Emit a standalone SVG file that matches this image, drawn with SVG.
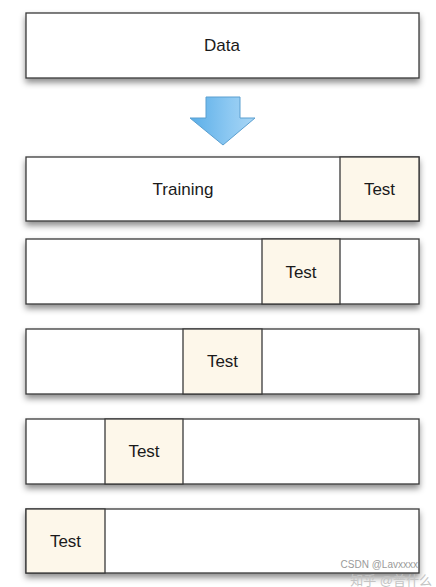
<svg xmlns="http://www.w3.org/2000/svg" width="436" height="587" viewBox="0 0 436 587">
<style>
.box{fill:#ffffff;stroke:#3a3a3a;stroke-width:1.3}
.test{fill:#fdf7ea;stroke:#3a3a3a;stroke-width:1.3}
.lbl{font-family:"Liberation Sans",Arial,sans-serif;font-size:17px;fill:#1a1a1a;text-anchor:middle;dominant-baseline:central}
.wm{font-family:"Liberation Sans","Noto Sans CJK SC",sans-serif;text-anchor:end}
</style>
<defs>
<filter id="sh" x="-5%" y="-20%" width="110%" height="150%">
<feDropShadow dx="0" dy="4" stdDeviation="3" flood-color="#000" flood-opacity="0.45"/>
</filter>
<linearGradient id="ag" x1="0" y1="0" x2="1" y2="0">
<stop offset="0" stop-color="#5aaee8"/>
<stop offset="0.6" stop-color="#8cc8f2"/>
<stop offset="1" stop-color="#a9d6f5"/>
</linearGradient>
</defs>
<g id="data">
<rect class="box" x="26" y="13" width="393" height="65" filter="url(#sh)"/>
<text class="lbl" x="222" y="45">Data</text>
</g>
<g id="connectors">
<path d="M206 97 H240 V118 H255 L223 145 L190 118 H206 Z" fill="url(#ag)" stroke="#5a9fd0" stroke-width="1"/>
</g>
<g id="fold1">
<rect class="box" x="26" y="157" width="393" height="64" filter="url(#sh)"/>
<rect class="test" x="340" y="157" width="79" height="64"/>
<text class="lbl" x="183" y="189">Training</text>
<text class="lbl" x="379.5" y="189">Test</text>
</g>
<g id="fold2">
<rect class="box" x="26" y="239" width="393" height="65" filter="url(#sh)"/>
<rect class="test" x="262" y="239" width="78" height="65"/>
<text class="lbl" x="301" y="272">Test</text>
</g>
<g id="fold3">
<rect class="box" x="26" y="329" width="393" height="65" filter="url(#sh)"/>
<rect class="test" x="183" y="329" width="79" height="65"/>
<text class="lbl" x="222.5" y="361">Test</text>
</g>
<g id="fold4">
<rect class="box" x="26" y="419" width="393" height="65" filter="url(#sh)"/>
<rect class="test" x="105" y="419" width="78" height="65"/>
<text class="lbl" x="144" y="451">Test</text>
</g>
<g id="fold5">
<rect class="box" x="26" y="509" width="393" height="64" filter="url(#sh)"/>
<rect class="test" x="26" y="509" width="79" height="64"/>
<text class="lbl" x="65.5" y="541">Test</text>
</g>
<g id="watermark">
<text class="wm" x="432" y="585" font-size="13" fill="#c4c4c4">知乎 @普什么</text>
<text class="wm" x="418" y="568" font-size="10" fill="#9a9a9a">CSDN @Lavxxxx</text>
</g>
</svg>
